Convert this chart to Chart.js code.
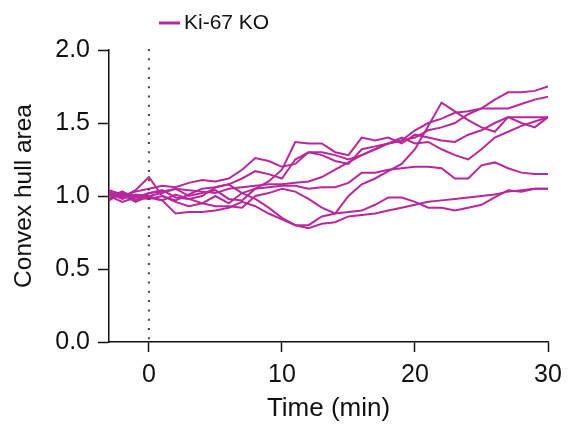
<!DOCTYPE html>
<html>
<head>
<meta charset="utf-8">
<script src="https://cdn.jsdelivr.net/npm/chart.js@4.4.1/dist/chart.umd.min.js"></script>
<style>
  html, body { margin: 0; padding: 0; background: #fff; }
  #wrap { width: 571px; height: 425px; }
</style>
</head>
<body>
<div id="wrap"><canvas id="myChart" width="571" height="425"></canvas></div>
<script>
// time points (min), one sample per minute
const times = [-3,-2,-1,0,1,2,3,4,5,6,7,8,9,10,11,12,13,14,15,16,17,18,19,20,21,22,23,24,25,26,27,28,29,30];

// convex hull area, normalised, one array per cell
const cell1 = [1.02,0.98,1.01,1.00,1.02,1.05,1.04,1.03,1.02,1.05,1.06,1.07,1.08,1.08,1.09,1.10,1.13,1.18,1.23,1.28,1.32,1.36,1.38,1.40,1.45,1.47,1.50,1.56,1.60,1.66,1.71,1.71,1.72,1.75];
const cell2 = [0.98,1.03,0.99,0.98,1.00,0.97,1.01,1.05,1.06,1.08,1.12,1.17,1.15,1.12,1.25,1.30,1.28,1.24,1.22,1.32,1.34,1.36,1.38,1.45,1.50,1.53,1.57,1.58,1.60,1.60,1.60,1.63,1.66,1.68];
const cell3 = [1.00,1.03,0.97,1.02,1.04,0.99,0.98,1.00,1.06,1.08,1.02,0.98,0.92,0.85,0.80,0.80,0.86,0.88,1.00,1.08,1.12,1.17,1.22,1.32,1.48,1.64,1.58,1.52,1.47,1.44,1.54,1.54,1.54,1.54];
const cell4 = [1.03,0.99,1.04,1.13,1.00,0.96,0.93,0.95,1.00,0.95,1.02,1.05,1.10,1.18,1.37,1.36,1.36,1.30,1.28,1.40,1.38,1.40,1.36,1.42,1.40,1.38,1.37,1.42,1.45,1.50,1.54,1.50,1.47,1.54];
const cell5 = [1.01,1.00,1.03,1.05,1.07,1.06,1.09,1.11,1.10,1.12,1.18,1.26,1.24,1.20,1.22,1.30,1.30,1.28,1.25,1.28,1.32,1.36,1.40,1.36,1.37,1.32,1.28,1.25,1.32,1.40,1.44,1.48,1.51,1.54];
const cell6 = [1.00,0.96,0.99,1.02,1.03,1.05,1.00,1.02,1.04,0.98,0.97,1.05,1.06,1.07,1.07,1.05,1.06,1.06,1.09,1.16,1.16,1.18,1.19,1.20,1.20,1.19,1.12,1.12,1.21,1.23,1.19,1.16,1.15,1.15];
const cell7 = [0.97,1.02,1.00,0.99,0.97,1.01,0.98,0.95,0.93,0.93,0.92,1.00,1.02,1.05,1.03,0.98,0.92,0.88,0.89,0.90,0.94,0.99,0.99,0.96,0.92,0.92,0.90,0.92,0.94,0.99,1.04,1.03,1.05,1.05];
const cell8 = [1.04,1.01,0.96,1.00,0.97,0.88,0.89,0.89,0.90,0.92,0.96,0.93,0.88,0.84,0.80,0.78,0.81,0.82,0.86,0.87,0.88,0.90,0.92,0.94,0.96,0.97,0.98,0.99,1.00,1.01,1.03,1.04,1.05,1.05];

const cells = [cell1, cell2, cell3, cell4, cell5, cell6, cell7, cell8];
const xTicks = [0, 10, 20, 30];
const legendLabel = 'Ki-67 KO';
const lineColor = '#b8279c';
const fontFamily = '"Liberation Sans", Arial, sans-serif';

// dotted line at t = 0 plus the legend
const extras = {
    id: 'extras',
    afterDatasetsDraw(chart) {
        const ctx = chart.ctx;
        const x = chart.scales.x.getPixelForValue(0);
        const y = chart.scales.y;
        ctx.save();
        ctx.strokeStyle = '#444';
        ctx.lineWidth = 2;
        ctx.setLineDash([2, 7.3]);
        ctx.beginPath();
        ctx.moveTo(x, y.getPixelForValue(2.0) - 1);
        ctx.lineTo(x, y.getPixelForValue(0));
        ctx.stroke();
        ctx.setLineDash([]);
        // legend
        ctx.strokeStyle = lineColor;
        ctx.lineWidth = 3;
        ctx.beginPath();
        ctx.moveTo(159, 23);
        ctx.lineTo(180, 23);
        ctx.stroke();
        ctx.fillStyle = '#111';
        ctx.font = '21px ' + fontFamily;
        ctx.textBaseline = 'middle';
        ctx.fillText(legendLabel, 184, 23);
        ctx.restore();
    }
};

const ctx = document.getElementById('myChart').getContext('2d');
const myChart = new Chart(ctx, {
    type: 'line',
    data: {
        datasets: cells.map((c, i) => ({
            label: i === 0 ? legendLabel : '',
            data: c.map((v, j) => ({ x: times[j], y: v })),
            borderColor: lineColor,
            borderWidth: 2,
            pointRadius: 0,
            tension: 0,
            fill: false
        }))
    },
    options: {
        responsive: false,
        animation: false,
        layout: { padding: { top: 50, right: 23, left: 0, bottom: 0 } },
        plugins: { legend: { display: false }, tooltip: { enabled: false } },
        scales: {
            x: {
                type: 'linear',
                min: -3,
                max: 30,
                afterBuildTicks: s => { s.ticks = xTicks.map(v => ({ value: v })); },
                afterFit: s => { s.height = 83; },
                grid: { drawOnChartArea: false, drawTicks: true, tickLength: 10, tickColor: '#111', tickWidth: 1.5 },
                border: { color: '#111', width: 1.5 },
                ticks: { color: '#111', padding: 8, maxRotation: 0, font: { family: fontFamily, size: 25 } },
                title: { display: true, text: 'Time (min)', color: '#111', padding: { top: 0, bottom: 1 }, font: { family: fontFamily, size: 26 } }
            },
            y: {
                min: 0,
                max: 2,
                afterFit: s => { s.width = 109; },
                ticks: { stepSize: 0.5, color: '#111', padding: 8, callback: v => v.toFixed(1), font: { family: fontFamily, size: 25 } },
                grid: { drawOnChartArea: false, drawTicks: true, tickLength: 11, tickColor: '#111', tickWidth: 1.5 },
                border: { color: '#111', width: 1.5 },
                title: { display: true, text: 'Convex hull area', color: '#111', padding: { top: 10, bottom: 0 }, font: { family: fontFamily, size: 24.5 } }
            }
        }
    },
    plugins: [extras]
});
</script>
</body>
</html>
